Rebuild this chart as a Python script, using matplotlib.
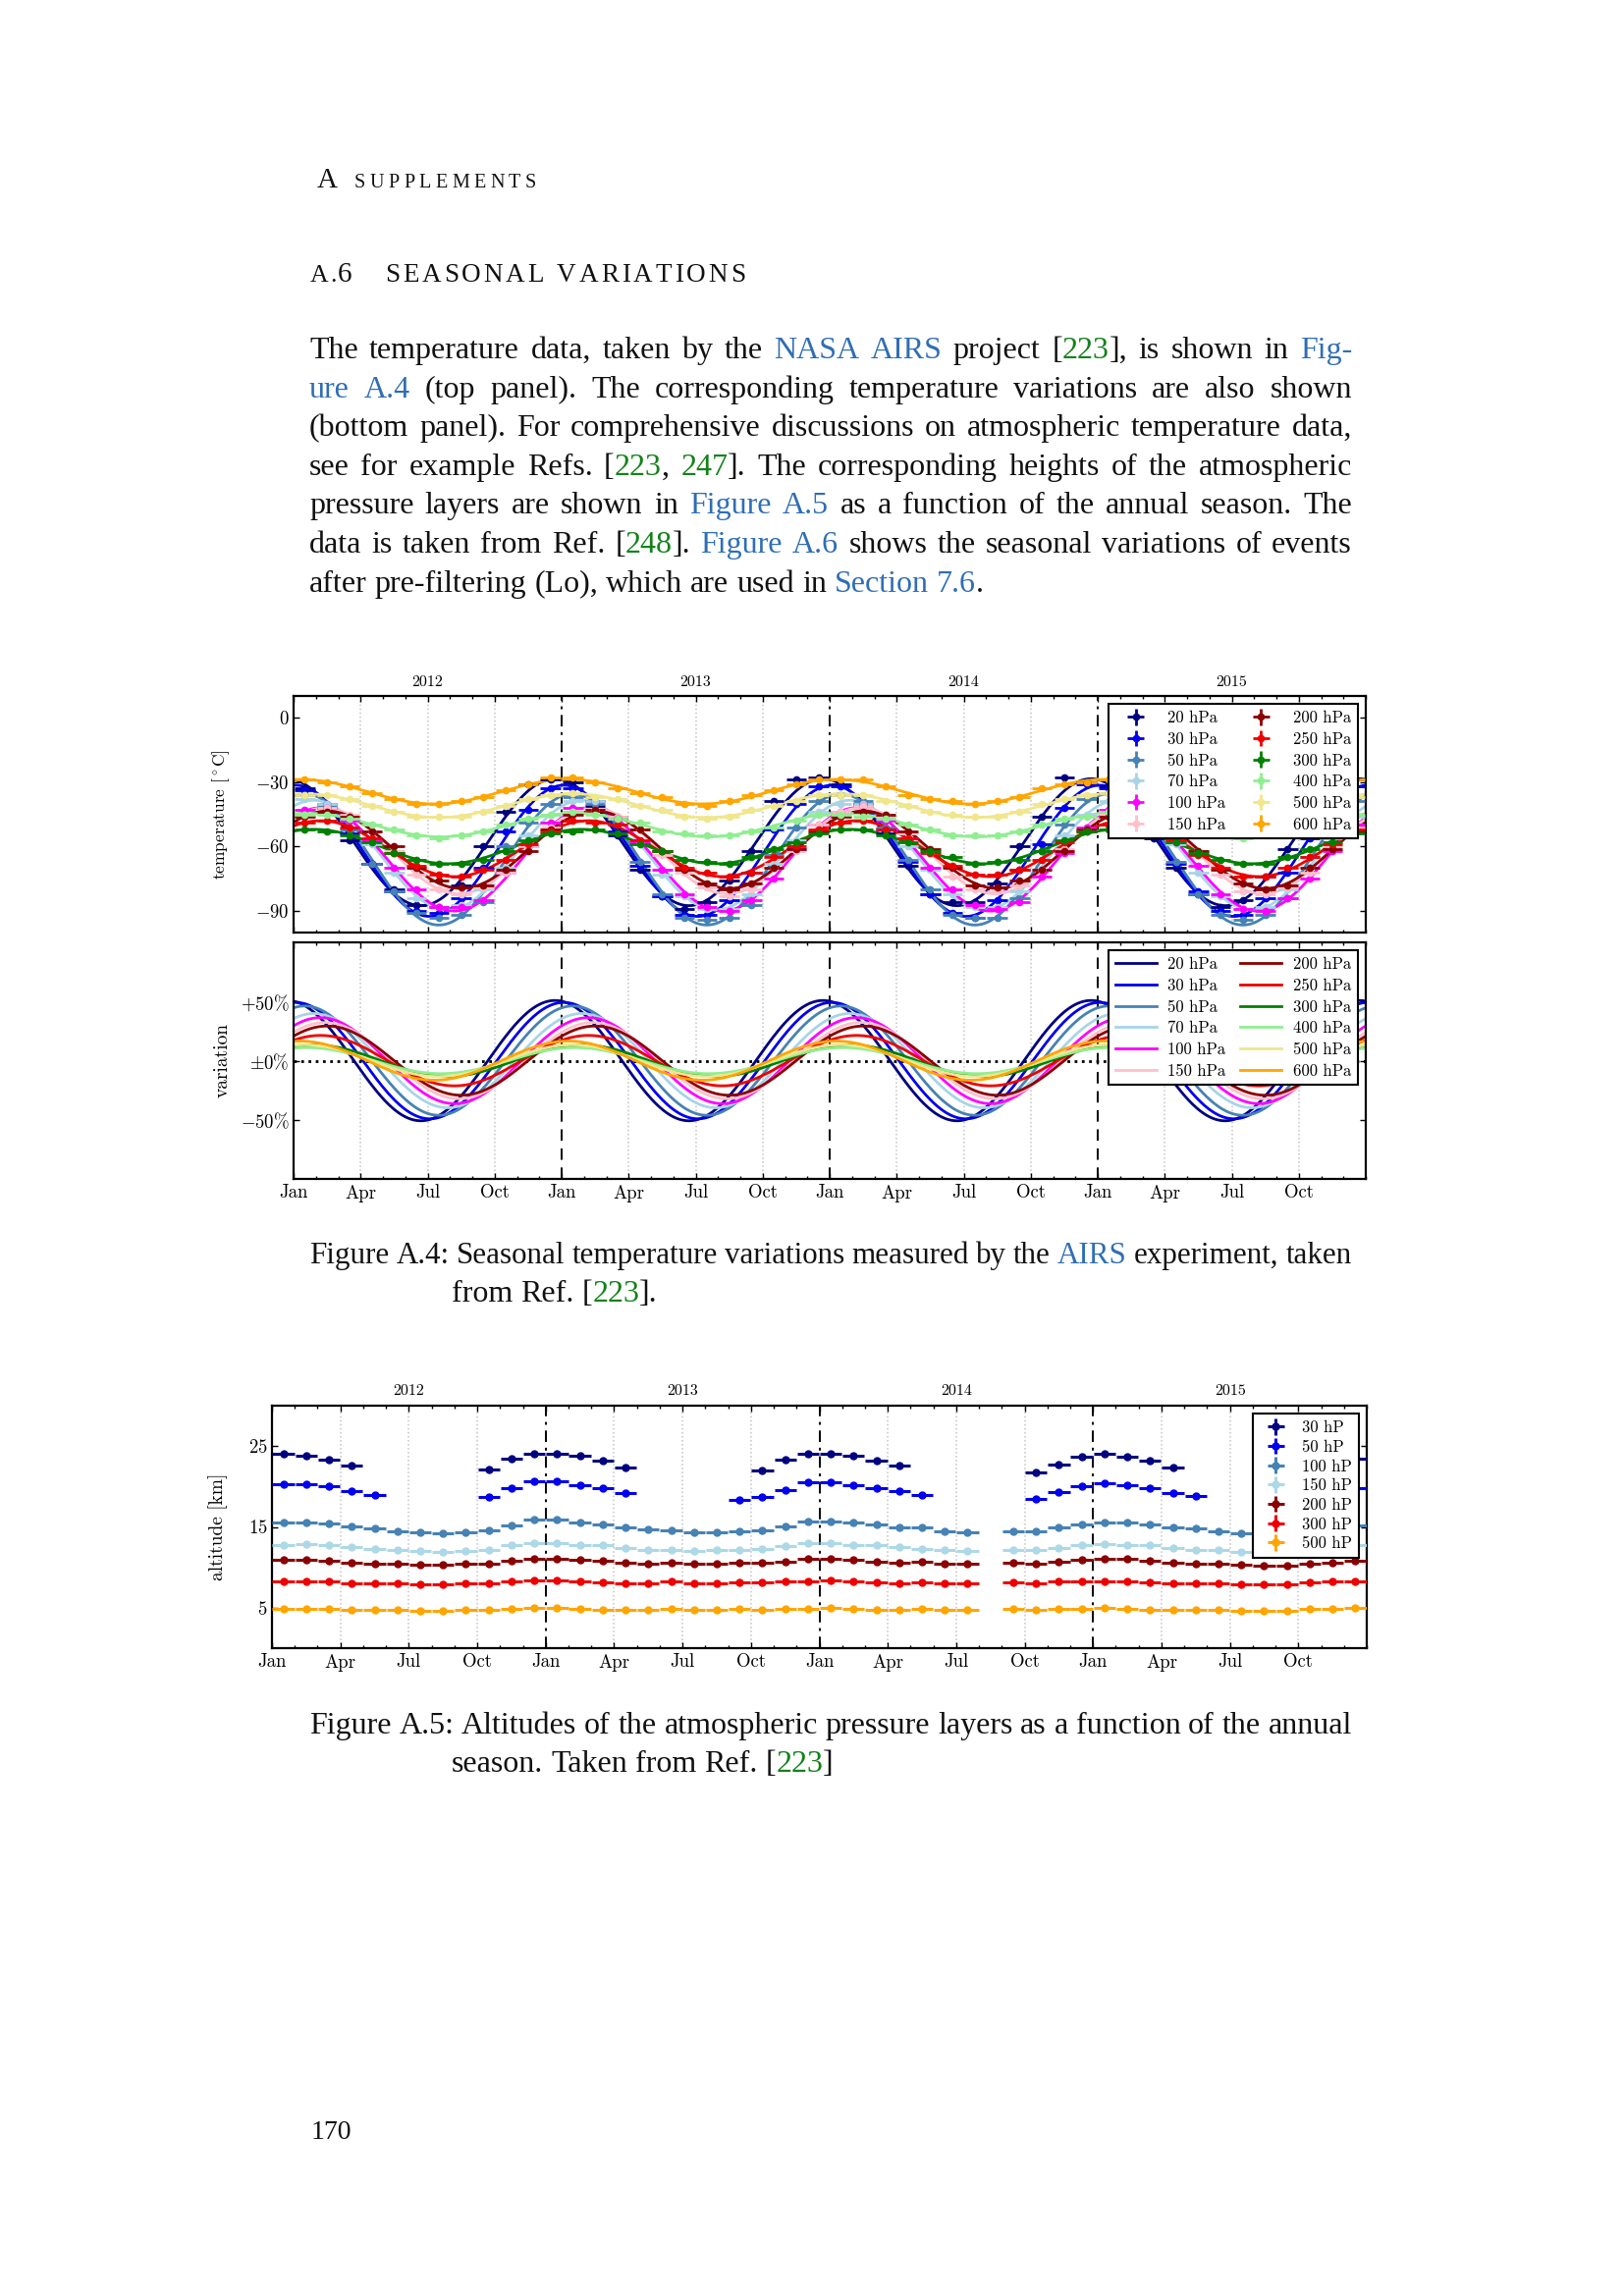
import re
import numpy as np
import matplotlib
matplotlib.use('Agg')
import matplotlib.pyplot as plt
from matplotlib.ticker import FixedLocator
import matplotlib.transforms as mtransforms

nan = np.nan

# ---------------- data: Figure A.4 (temperature) ----------------
temp_labels = ['20 hPa', '30 hPa', '50 hPa', '70 hPa', '100 hPa', '150 hPa',
               '200 hPa', '250 hPa', '300 hPa', '400 hPa', '500 hPa', '600 hPa']
temp_colors = ['#000080', '#0000ee', '#4682b4', '#a8d4e6', '#ff00ff', '#ffbfcb',
               '#8b0000', '#ee0000', '#008000', '#90ee90', '#f0e68c', '#ffa500']
# seasonal fit: mean, amplitude [deg C], month of maximum
fit_mean = [-58, -62, -66, -64, -66, -62, -61.5, -61, -60, -50, -41, -34.5]
fit_amp = [29.5, 30.5, 30.5, 25.5, 24, 20, 18, 13, 8, 5.5, 5.5, 5.7]
fit_peak = [-0.3, 0.1, 0.5, 0.9, 1.2, 1.4, 1.5, 1.2, 0.9, 0.6, 0.5, 0.3]

# monthly means Jan 2012 - Dec 2015
t20 = [-33, -42, -57, -68, -80, -87, -88, -78, -60, -44, -31, -29,
       -30, -41, -55, -71, -83, -89, -86, -76, -62, -39, -29, -28,
       -31, -40, -54, -69, -82, -86, -86, -77, -60, -46, -28, -30,
       -32, -41, -56, -70, -82, -88, -85, -74, -61, -45, -33, -29]
t30 = [-34, -40, -54, -68, -81, -90, -91, -84, -70, -53, -43, -33,
       -33, -39, -53, -69, -83, -92, -92, -85, -72, -52, -40, -32,
       -32, -40, -52, -67, -82, -91, -93, -85, -71, -59, -42, -31,
       -33, -38, -53, -68, -81, -90, -92, -84, -72, -56, -41, -32]
t50 = [-36, -41, -52, -68, -81, -91, -93, -92, -86, -60, -49, -40,
       -37, -40, -50, -67, -82, -93, -94, -93, -87, -64, -51, -39,
       -36, -39, -51, -66, -80, -92, -93, -93, -84, -62, -50, -38,
       -35, -40, -52, -67, -82, -92, -94, -92, -84, -65, -52, -39]
t70 = [-38, -40, -48, -59, -72, -84, -88, -87, -80, -70, -55, -45,
       -39, -39, -47, -58, -73, -83, -89, -89, -82, -68, -57, -44,
       -40, -40, -46, -60, -71, -82, -88, -88, -81, -71, -55, -45,
       -39, -41, -47, -59, -72, -83, -89, -88, -80, -70, -56, -46]
t100 = [-43, -42, -48, -57, -70, -80, -88, -88, -85, -72, -60, -49,
        -42, -43, -46, -58, -71, -82, -88, -90, -85, -75, -61, -50,
        -44, -41, -48, -56, -70, -80, -87, -89, -86, -74, -63, -51,
        -43, -42, -47, -58, -69, -82, -89, -90, -84, -75, -62, -50]
t150 = [-45, -42, -45, -53, -62, -73, -80, -82, -79, -72, -60, -51,
        -44, -43, -46, -52, -64, -72, -79, -83, -80, -70, -62, -50,
        -44, -41, -45, -54, -63, -74, -80, -81, -78, -71, -61, -52,
        -45, -42, -44, -53, -62, -73, -81, -82, -79, -72, -60, -51]
t200 = [-46, -44, -46, -53, -60, -70, -76, -79, -78, -71, -62, -52,
        -45, -43, -47, -52, -62, -71, -77, -80, -77, -70, -61, -53,
        -46, -44, -45, -53, -61, -70, -78, -79, -76, -71, -62, -52,
        -46, -43, -46, -52, -62, -71, -77, -80, -78, -70, -61, -53]
t250 = [-49, -48, -51, -56, -63, -69, -73, -74, -71, -66, -59, -53,
        -48, -49, -50, -57, -62, -70, -72, -74, -72, -65, -60, -52,
        -49, -48, -52, -56, -63, -69, -73, -73, -71, -66, -58, -53,
        -50, -48, -51, -57, -64, -70, -74, -74, -70, -65, -59, -52]
t300 = [-52, -53, -55, -58, -63, -66, -68, -68, -66, -62, -57, -54,
        -53, -52, -54, -59, -62, -66, -67, -68, -65, -61, -58, -54,
        -52, -52, -55, -58, -62, -65, -68, -67, -66, -62, -57, -53,
        -52, -53, -54, -58, -63, -66, -68, -68, -65, -61, -58, -54]
t400 = [-45, -45, -47, -50, -52, -55, -56, -55, -53, -50, -47, -45,
        -44, -45, -47, -49, -53, -54, -55, -55, -53, -51, -48, -45,
        -45, -46, -47, -50, -52, -55, -55, -55, -53, -50, -47, -46,
        -44, -45, -48, -50, -53, -54, -56, -54, -53, -50, -48, -45]
t500 = [-36, -36, -38, -41, -44, -46, -46, -46, -44, -41, -38, -36,
        -35, -37, -38, -41, -43, -46, -47, -46, -43, -41, -39, -36,
        -36, -36, -39, -41, -44, -45, -46, -46, -44, -40, -38, -36,
        -35, -36, -38, -42, -44, -46, -47, -45, -44, -41, -38, -37]
t600 = [-29, -30, -32, -35, -38, -40, -40, -39, -37, -34, -31, -28,
        -28, -30, -33, -35, -37, -40, -41, -39, -36, -34, -31, -29,
        -29, -29, -32, -36, -38, -39, -40, -39, -37, -33, -31, -30,
        -29, -30, -32, -35, -38, -40, -40, -40, -37, -34, -32, -29]
temp_data = [t20, t30, t50, t70, t100, t150, t200, t250, t300, t400, t500, t600]

# ---------------- data: Figure A.5 (altitude) ----------------
alt_labels = ['30 hP', '50 hP', '100 hP', '150 hP', '200 hP', '300 hP', '500 hP']
alt_colors = ['#000080', '#0000ee', '#4682b4', '#add8e6', '#8b0000', '#ee0000', '#ffa500']
a30 = [24.0, 23.8, 23.3, 22.6, nan, nan, nan, nan, nan, 22.1, 23.5, 24.1,
       24.1, 23.8, 23.2, 22.4, nan, nan, nan, nan, nan, 22.0, 23.3, 24.1,
       24.0, 23.8, 23.2, 22.6, nan, nan, nan, nan, nan, 21.7, 22.7, 23.7,
       24.0, 23.7, 23.2, 22.4, nan, nan, nan, nan, nan, 21.9, 22.8, 23.4]
a50 = [20.3, 20.3, 20.0, 19.4, 18.9, nan, nan, nan, nan, 18.7, 19.8, 20.6,
       20.6, 20.2, 19.8, 19.2, nan, nan, nan, nan, 18.4, 18.7, 19.6, 20.5,
       20.5, 20.2, 19.8, 19.4, 18.9, nan, nan, nan, nan, 18.5, 19.3, 20.0,
       20.4, 20.2, 19.8, 19.2, 18.8, nan, nan, nan, nan, 18.7, 19.3, 19.8]
a100 = [15.6, 15.6, 15.4, 15.1, 14.8, 14.5, 14.3, 14.2, 14.3, 14.6, 15.2, 15.9,
        15.9, 15.6, 15.3, 15.0, 14.7, 14.6, 14.3, 14.3, 14.5, 14.6, 15.1, 15.7,
        15.7, 15.5, 15.3, 15.0, 14.9, 14.5, 14.3, nan, 14.5, 14.5, 15.0, 15.3,
        15.6, 15.6, 15.3, 15.0, 14.8, 14.5, 14.2, 14.2, 14.3, 14.5, 14.9, 15.2]
a150 = [12.8, 12.9, 12.8, 12.5, 12.3, 12.1, 12.0, 11.9, 12.0, 12.2, 12.7, 13.0,
        13.0, 12.8, 12.7, 12.4, 12.2, 12.2, 12.0, 12.1, 12.2, 12.3, 12.6, 13.0,
        13.0, 12.8, 12.7, 12.5, 12.3, 12.1, 12.0, nan, 12.1, 12.1, 12.4, 12.7,
        12.9, 12.8, 12.7, 12.4, 12.2, 12.1, 11.9, 11.9, 12.0, 12.2, 12.5, 12.7]
a200 = [10.9, 10.9, 10.8, 10.6, 10.5, 10.4, 10.3, 10.3, 10.4, 10.5, 10.8, 11.1,
        11.1, 10.9, 10.8, 10.6, 10.5, 10.6, 10.4, 10.5, 10.6, 10.6, 10.7, 11.0,
        11.0, 10.9, 10.7, 10.6, 10.7, 10.5, 10.4, nan, 10.6, 10.5, 10.7, 10.9,
        11.0, 11.0, 10.8, 10.6, 10.5, 10.4, 10.3, 10.2, 10.2, 10.5, 10.6, 10.8]
a300 = [8.25, 8.25, 8.2, 8.05, 8.05, 8.0, 7.9, 7.9, 8.0, 8.05, 8.25, 8.4,
        8.4, 8.2, 8.1, 8.0, 8.0, 8.2, 8.0, 8.05, 8.1, 8.1, 8.2, 8.3,
        8.4, 8.25, 8.1, 8.0, 8.1, 8.05, 8.0, nan, 8.1, 8.05, 8.2, 8.25,
        8.3, 8.25, 8.1, 8.0, 8.0, 8.0, 7.85, 7.9, 7.85, 8.1, 8.2, 8.25]
a500 = [4.84, 4.84, 4.84, 4.72, 4.72, 4.72, 4.67, 4.63, 4.72, 4.72, 4.88, 5.0,
        5.0, 4.84, 4.76, 4.72, 4.72, 4.84, 4.72, 4.72, 4.84, 4.76, 4.84, 4.88,
        5.0, 4.84, 4.72, 4.72, 4.84, 4.72, 4.72, nan, 4.84, 4.72, 4.84, 4.88,
        4.92, 4.84, 4.76, 4.72, 4.72, 4.72, 4.6, 4.63, 4.63, 4.8, 4.84, 4.92]
alt_data = [a30, a50, a100, a150, a200, a300, a500]

years = ['2012', '2013', '2014', '2015']
month_labels = ['Jan', 'Apr', 'Jul', 'Oct']

# ---------------- page text ----------------
BLUE = '#2f6eb5'
GREEN = '#13821a'
BLACK = '#111111'
body_lines = [
    ("The temperature data, taken by the {b:NASA AIRS} project [{g:223}], is shown in {b:Fig-}", True),
    ("{b:ure A.4} (top panel). The corresponding temperature variations are also shown", True),
    ("(bottom panel). For comprehensive discussions on atmospheric temperature data,", True),
    ("see for example Refs. [{g:223}, {g:247}]. The corresponding heights of the atmospheric", True),
    ("pressure layers are shown in {b:Figure A.5} as a function of the annual season. The", True),
    ("data is taken from Ref. [{g:248}]. {b:Figure A.6} shows the seasonal variations of events", True),
    ("after pre-filtering (Lo), which are used in {b:Section 7.6}.", False),
]
caption4 = ["Figure A.4: Seasonal temperature variations measured by the {b:AIRS} experiment, taken",
            "from Ref. [{g:223}]."]
caption5 = ["Figure A.5: Altitudes of the atmospheric pressure layers as a function of the annual",
            "season. Taken from Ref. [{g:223}]"]

# ---------------- setup ----------------
W, H = 1654, 2339
plt.rcParams['font.family'] = 'serif'
plt.rcParams['font.serif'] = ['cmr10']
plt.rcParams['mathtext.fontset'] = 'cm'
plt.rcParams['axes.unicode_minus'] = False
plt.rcParams['axes.formatter.use_mathtext'] = True

fig = plt.figure(figsize=(W / 100, H / 100), dpi=100)
renderer = fig.canvas.get_renderer()
TEXTFONT = 'Liberation Serif'
BODY_SIZE = 23


def px_axes(l, t, r, b):
    return fig.add_axes([l / W, 1 - b / H, (r - l) / W, (b - t) / H])


def month_axis(ax, labels, jan_ls):
    ax.set_xlim(0, 48)
    ax.xaxis.set_major_locator(FixedLocator(np.arange(0, 48, 3)))
    ax.xaxis.set_minor_locator(FixedLocator(np.arange(0, 49, 1)))
    if labels:
        ax.set_xticklabels(month_labels * 4)
    else:
        ax.set_xticklabels([])
    ax.tick_params(which='both', direction='in', top=True, right=True, labelsize=13.5)
    ax.tick_params(which='major', length=4.5, width=1, pad=4)
    ax.tick_params(which='minor', length=2.2, width=1)
    for s in ax.spines.values():
        s.set_linewidth(1.6)
    for q in range(3, 48, 3):
        if q % 12:
            ax.axvline(q, color='#c4c4c4', ls=':', lw=1.1, zorder=0)
    for j in (12, 24, 36):
        ax.axvline(j, color='k', ls=jan_ls, lw=1.4, zorder=1)


def year_labels(ax, y):
    tr = mtransforms.blended_transform_factory(ax.transData, ax.transAxes)
    for i, yr in enumerate(years):
        ax.text(6 + 12 * i, y, yr, transform=tr, ha='center', va='center', fontsize=11.5)


x_mid = np.arange(48) + 0.5
t_fine = np.linspace(0, 48, 800)
leg_kw = dict(fancybox=False, edgecolor='k', framealpha=1, borderpad=0.4)

# ---------------- Figure A.4 top: temperature ----------------
ax1 = px_axes(299, 709, 1391, 950)
month_axis(ax1, False, (0, (6, 3, 1.5, 3)))
year_labels(ax1, 1.058)
ax1.set_ylim(-100, 10)
ax1.yaxis.set_major_locator(FixedLocator([0, -30, -60, -90]))
ax1.set_yticklabels([r'$0$', r'$-30$', r'$-60$', r'$-90$'])
ax1.tick_params(axis='y', pad=3)
ax1.set_ylabel(r'temperature [$^\circ$C]', fontsize=12.5)
ax1.yaxis.set_label_coords(-0.058, 0.5)
for i in range(12):
    curve = fit_mean[i] + fit_amp[i] * np.cos(2 * np.pi * (t_fine - fit_peak[i]) / 12)
    ax1.plot(t_fine, curve, color=temp_colors[i], lw=2, zorder=2)
for i in range(12):
    ax1.errorbar(x_mid, temp_data[i], xerr=0.45, yerr=1.0, fmt='o', color=temp_colors[i],
                 ms=4.5, elinewidth=2, capsize=0, label=temp_labels[i], zorder=3)
leg1 = ax1.legend(loc='upper right', ncol=2, fontsize=12, labelspacing=0.38,
                  handlelength=2.5, columnspacing=0.9, handletextpad=0.7, **leg_kw)
leg1.get_frame().set_linewidth(1.5)
leg1.set_zorder(10)

# ---------------- Figure A.4 bottom: variation ----------------
ax2 = px_axes(299, 960, 1391, 1201)
month_axis(ax2, True, (0, (6, 4)))
ax2.set_ylim(-1, 1)
ax2.yaxis.set_major_locator(FixedLocator([0.5, 0, -0.5]))
ax2.set_yticklabels([r'$+50\%$', r'$\pm0\%$', r'$-50\%$'])
ax2.tick_params(axis='y', pad=3)
ax2.set_ylabel('variation', fontsize=14)
ax2.yaxis.set_label_coords(-0.058, 0.5)
ax2.axhline(0, color='k', ls=':', lw=2, zorder=1)
for i in range(12):
    rel = fit_amp[i] / abs(fit_mean[i])
    ax2.plot(t_fine, rel * np.cos(2 * np.pi * (t_fine - fit_peak[i]) / 12),
             color=temp_colors[i], lw=2, label=temp_labels[i], zorder=2)
leg2 = ax2.legend(loc='upper right', ncol=2, fontsize=12, labelspacing=0.38,
                  handlelength=2.5, columnspacing=0.9, handletextpad=0.7, **leg_kw)
leg2.get_frame().set_linewidth(1.5)
leg2.set_zorder(10)

# ---------------- Figure A.5: altitude ----------------
ax3 = px_axes(277, 1432, 1392, 1679)
month_axis(ax3, True, (0, (6, 3, 1.5, 3)))
year_labels(ax3, 1.061)
ax3.set_ylim(0, 30)
ax3.yaxis.set_major_locator(FixedLocator([5, 15, 25]))
ax3.set_yticklabels([r'$5$', r'$15$', r'$25$'])
ax3.tick_params(axis='y', pad=3)
ax3.set_ylabel('altitude [km]', fontsize=14)
ax3.yaxis.set_label_coords(-0.040, 0.5)
for i in range(7):
    ax3.errorbar(x_mid, alt_data[i], xerr=0.48, yerr=0.12, fmt='o', color=alt_colors[i],
                 ms=5, elinewidth=2.2, capsize=0, label=alt_labels[i], zorder=3)
leg3 = ax3.legend(loc='upper right', fontsize=12, labelspacing=0.26, handlelength=2.0,
                  handletextpad=0.6, **leg_kw)
leg3.get_frame().set_linewidth(1.5)
leg3.set_zorder(10)


# ---------------- page text helpers ----------------
def measure(s, size):
    t = fig.text(0, 0, s, fontsize=size, family=TEXTFONT)
    w = t.get_window_extent(renderer).width
    t.remove()
    return w


def parse(line):
    chars = []
    pos = 0
    for m in re.finditer(r'\{([bg]):([^}]*)\}', line):
        chars += [(c, BLACK) for c in line[pos:m.start()]]
        col = BLUE if m.group(1) == 'b' else GREEN
        chars += [(c, col) for c in m.group(2)]
        pos = m.end()
    chars += [(c, BLACK) for c in line[pos:]]
    words, cur = [], []
    for c, col in chars:
        if c == ' ':
            if cur:
                words.append(cur)
                cur = []
        elif cur and cur[-1][1] == col:
            cur[-1][0] += c
        else:
            cur.append([c, col])
    if cur:
        words.append(cur)
    return words


def space_width(size):
    return measure('x x', size) - measure('xx', size)


def text_line(line, x0, x1, y, justify, size=BODY_SIZE):
    words = parse(line)
    widths = [[measure(p, size) for p, _ in w] for w in words]
    total = sum(sum(w) for w in widths)
    sp = space_width(size)
    n = len(words)
    if justify and total + (n - 1) * sp * 0.9 > x1 - x0:
        # line would be too tight: shrink the font a little for this line
        size = size * (x1 - x0) / (total + (n - 1) * sp * 0.9)
        widths = [[measure(p, size) for p, _ in w] for w in words]
        total = sum(sum(w) for w in widths)
        sp = space_width(size)
    gap = (x1 - x0 - total) / (n - 1) if justify and n > 1 else sp
    x = x0
    for w, ws in zip(words, widths):
        for (p, col), pw in zip(w, ws):
            fig.text(x / W, 1 - y / H, p, fontsize=size, family=TEXTFONT, color=col,
                     va='baseline', ha='left')
            x += pw
        x += gap


def spaced(parts, x0, x1, y):
    # parts: list of (text, size); letters spread evenly between x0 and x1
    chars = [(c, s) for txt, s in parts for c in txt]
    ws = []
    for c, s in chars:
        ws.append(space_width(s) if c == ' ' else measure(c, s))
    extra = (x1 - x0 - sum(ws)) / (len(chars) - 1)
    x = x0
    for (c, s), w in zip(chars, ws):
        if c != ' ':
            fig.text(x / W, 1 - y / H, c, fontsize=s, family=TEXTFONT, color=BLACK,
                     va='baseline', ha='left')
        x += w + extra


# header and section title (small caps imitation)
fig.text(323 / W, 1 - 191 / H, 'A', fontsize=21, family=TEXTFONT, color=BLACK, va='baseline')
spaced([('SUPPLEMENTS', 14.5)], 361, 546, 191)
spaced([('A.', 18.5), ('6', 21)], 316, 358, 287)
spaced([('SEASONAL VARIATIONS', 19.5)], 392, 759, 287)

# body paragraph
for k, (line, just) in enumerate(body_lines):
    text_line(line, 315, 1377, 365 + 39.6 * k, just)

# captions
text_line(caption4[0], 315, 1377, 1287, True)
text_line(caption4[1], 460, 1377, 1326, False)
text_line(caption5[0], 315, 1377, 1766, True)
text_line(caption5[1], 460, 1377, 1805, False)

# page number
fig.text(317 / W, 1 - 2179 / H, '170', fontsize=20, family=TEXTFONT, color=BLACK, va='baseline')

fig.savefig('out.png', dpi=100)
